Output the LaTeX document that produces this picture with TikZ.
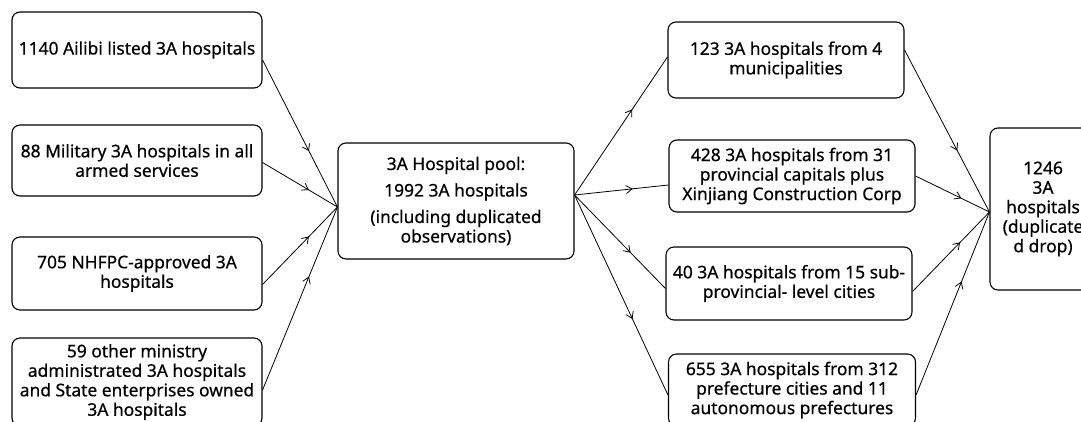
\documentclass[tikz,border=0pt]{standalone}
\usepackage{fontspec}
\setmainfont{Noto Sans}[FakeBold=0.5]
\newfontfamily\boxfont{Noto Sans}[FakeBold=0.5]
\usetikzlibrary{arrows.meta,decorations.markings}

\begin{document}
\begin{tikzpicture}[
    x=1pt, y=-1pt,
    font=\boxfont\fontsize{17.4}{19.5}\selectfont,
    box/.style={
        draw=black,
        line width=1.1pt,
        rounded corners=8pt,
        align=center,
        inner sep=2pt,
        fill=white
    },
    flow/.style={
        line width=0.8pt,
        postaction={decorate},
        decoration={markings,
            mark=at position 0.62 with {\arrow{Straight Barb[length=6pt,width=8pt]}}}
    }
]

% Stable crop (pixel units of the reference).
\path[use as bounding box] (0,0) rectangle (1081,421);

% --------------------------------------------------
% Sources
% --------------------------------------------------
\node[box, minimum width=250pt, minimum height=76pt] (ailibi) at (137,50)
    {1140 Ailibi listed 3A hospitals};
\node[box, minimum width=250pt, minimum height=71pt] (military) at (137,160.5)
    {88 Military 3A hospitals in all\\armed services};
\node[box, minimum width=250pt, minimum height=73pt] (nhfpc) at (137,273.5)
    {705 NHFPC-approved 3A\\hospitals};
\node[box, minimum width=250pt, minimum height=88pt] (ministry) at (137,382)
    {59 other ministry\\administrated 3A hospitals\\and State enterprises owned\\3A hospitals};

% --------------------------------------------------
% Pool
% --------------------------------------------------
\node[box, minimum width=236pt, minimum height=116pt] (pool) at (456,201)
    {3A Hospital pool:\\[7pt]1992 3A hospitals\\[7pt](including duplicated\\observations)};

% --------------------------------------------------
% City levels
% --------------------------------------------------
\node[box, minimum width=236pt, minimum height=76pt] (muni) at (786,60)
    {123 3A hospitals from 4\\municipalities};
\node[box, minimum width=246pt, minimum height=72pt] (capital) at (792,176)
    {428 3A hospitals from 31\\provincial capitals plus\\Xinjiang Construction Corp};
\node[box, minimum width=246pt, minimum height=73pt] (subprov) at (789,283.5)
    {40 3A hospitals from 15 sub-\\provincial- level cities};
\node[box, minimum width=247pt, minimum height=72pt] (prefect) at (792,390)
    {655 3A hospitals from 312\\prefecture cities and 11\\autonomous prefectures};

% --------------------------------------------------
% Result, cut by the right edge as in the source
% --------------------------------------------------
\node[box, minimum width=106pt, minimum height=162pt] (final) at (1043,209)
    {1246\\3A\\hospitals\\(duplicate\\d drop)};

% Helper coordinates where the arrows meet.
\coordinate (poolin)  at ([yshift=-6pt]pool.west);
\coordinate (poolout) at ([yshift=6pt]pool.east);
\coordinate (finalin) at ([yshift=-3pt]final.west);

% --------------------------------------------------
% Arrows
% --------------------------------------------------
\draw[flow] ([yshift=-10pt]ailibi.east) -- (poolin);
\draw[flow] ([yshift=-2pt]military.east) -- (poolin);
\draw[flow] ([yshift=-11pt]nhfpc.east) -- (poolin);
\draw[flow] ([yshift=-8pt]ministry.east) -- (poolin);

\draw[flow] (poolout) -- ([yshift=3pt]muni.west);
\draw[flow] (poolout) -- ([yshift=-9pt]capital.west);
\draw[flow] (poolout) -- ([yshift=-5pt]subprov.west);
\draw[flow] (poolout) -- ([yshift=-5pt]prefect.west);

\draw[flow] ([yshift=10pt]muni.east) -- (finalin);
\draw[flow] (capital.east) -- (finalin);
\draw[flow] ([yshift=-8pt]subprov.east) -- (finalin);
\draw[flow] ([yshift=-5pt]prefect.east) -- (finalin);

\end{tikzpicture}
\end{document}
